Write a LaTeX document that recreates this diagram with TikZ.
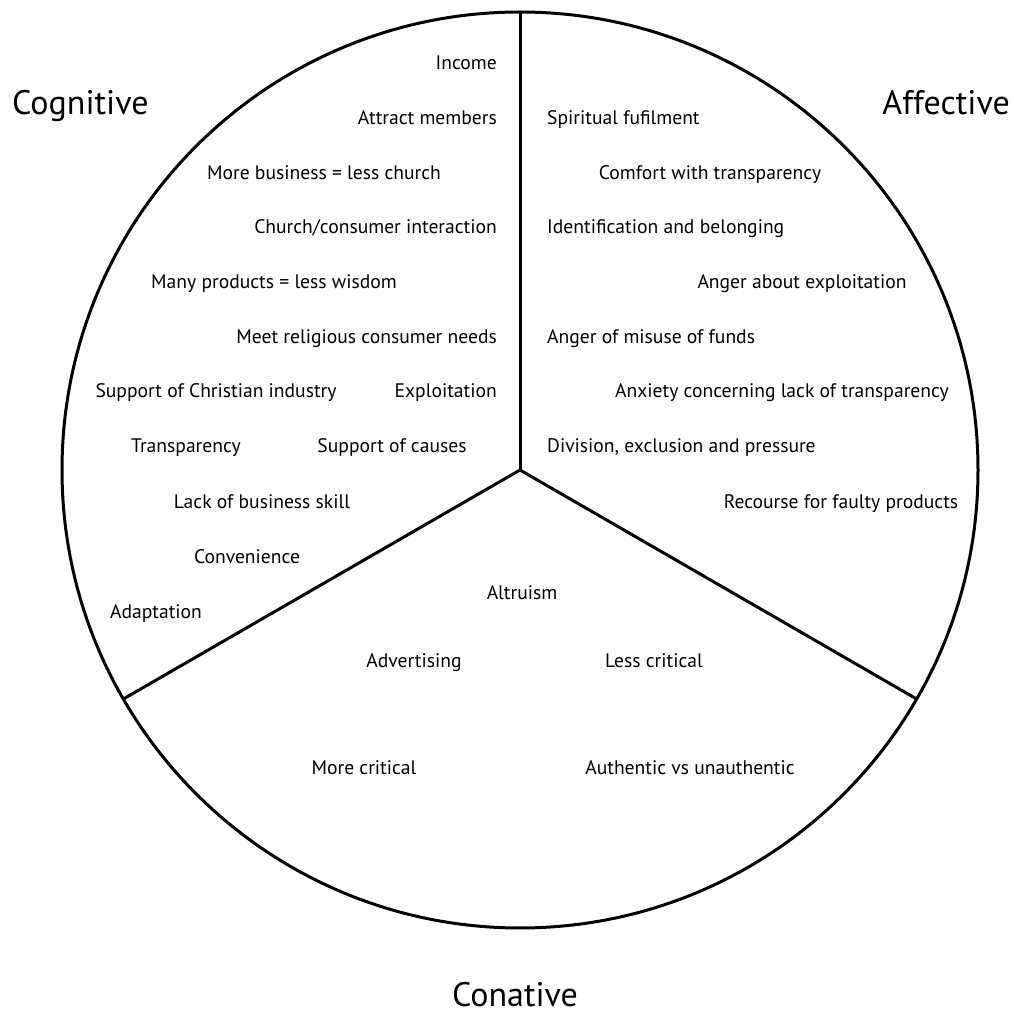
\documentclass[tikz,border=0pt]{standalone}
\usepackage{fontspec}
\setmainfont{PT Sans}
\usetikzlibrary{positioning}

\begin{document}
\begin{tikzpicture}[
    x=1pt, y=1pt,
    wheel/.style={line width=3pt, black},
    item/.style={font=\fontsize{19.6}{23}\selectfont, inner sep=0pt,
                 text height=1.5ex, text depth=.3ex},
    heading/.style={font=\fontsize{34}{40}\selectfont, inner sep=0pt,
                    text height=1.5ex, text depth=.3ex}
]
  \useasboundingbox (0,0) rectangle (1013,1018);

  % Wheel
  \coordinate (hub) at (520,548);
  \draw[wheel] (hub) circle (458);
  \coordinate (top) at ([shift={(90:458)}]hub);
  \coordinate (left) at ([shift={(210:458)}]hub);
  \coordinate (right) at ([shift={(330:458)}]hub);
  \draw[wheel] (hub) -- (top);
  \draw[wheel] (hub) -- (left);
  \draw[wheel] (hub) -- (right);

  % Headings
  \node[heading, anchor=west] (cog) at (12,906) {Cognitive};
  \node[heading, anchor=east] (aff) at (1010,906) {Affective};
  \node[heading] (con) at (515,14) {Conative};

  % Cognitive
  \node[item, anchor=east] (income) at (497,951) {Income};
  \node[item, anchor=east] (attract) at (497,896) {Attract members};
  \node[item] (business) at (324,841) {More business = less church};
  \node[item, anchor=east] (interact) at (497,787) {Church/consumer interaction};
  \node[item] (products) at (274,732) {Many products = less wisdom};
  \node[item, anchor=east] (needs) at (497,677) {Meet religious consumer needs};
  \node[item] (industry) at (216,623) {Support of Christian industry};
  \node[item, anchor=east] (exploit) at (497,623) {Exploitation};
  \node[item] (transp) at (186,568) {Transparency};
  \node[item] (causes) at (392,568) {Support of causes};
  \node[item] (skill) at (262,512) {Lack of business skill};
  \node[item] (conven) at (247,457) {Convenience};
  \node[item] (adapt) at (156,402) {Adaptation};

  % Affective
  \node[item, anchor=west] (spirit) at (547,896) {Spiritual fufilment};
  \node[item] (comfort) at (710,841) {Comfort with transparency};
  \node[item, anchor=west] (ident) at (547,787) {Identification and belonging};
  \node[item] (anger) at (802,732) {Anger about exploitation};
  \node[item, anchor=west] (misuse) at (547,677) {Anger of misuse of funds};
  \node[item] (anxiety) at (782,623) {Anxiety concerning lack of transparency};
  \node[item, anchor=west] (division) at (547,568) {Division, exclusion and pressure};
  \node[item] (recourse) at (841,512) {Recourse for faulty products};

  % Conative
  \node[item] (altru) at (522,421) {Altruism};
  \node[item] (advert) at (414,353) {Advertising};
  \node[item] (less) at (654,353) {Less critical};
  \node[item] (more) at (364,246) {More critical};
  \node[item] (authen) at (690,246) {Authentic vs unauthentic};
\end{tikzpicture}
\end{document}
